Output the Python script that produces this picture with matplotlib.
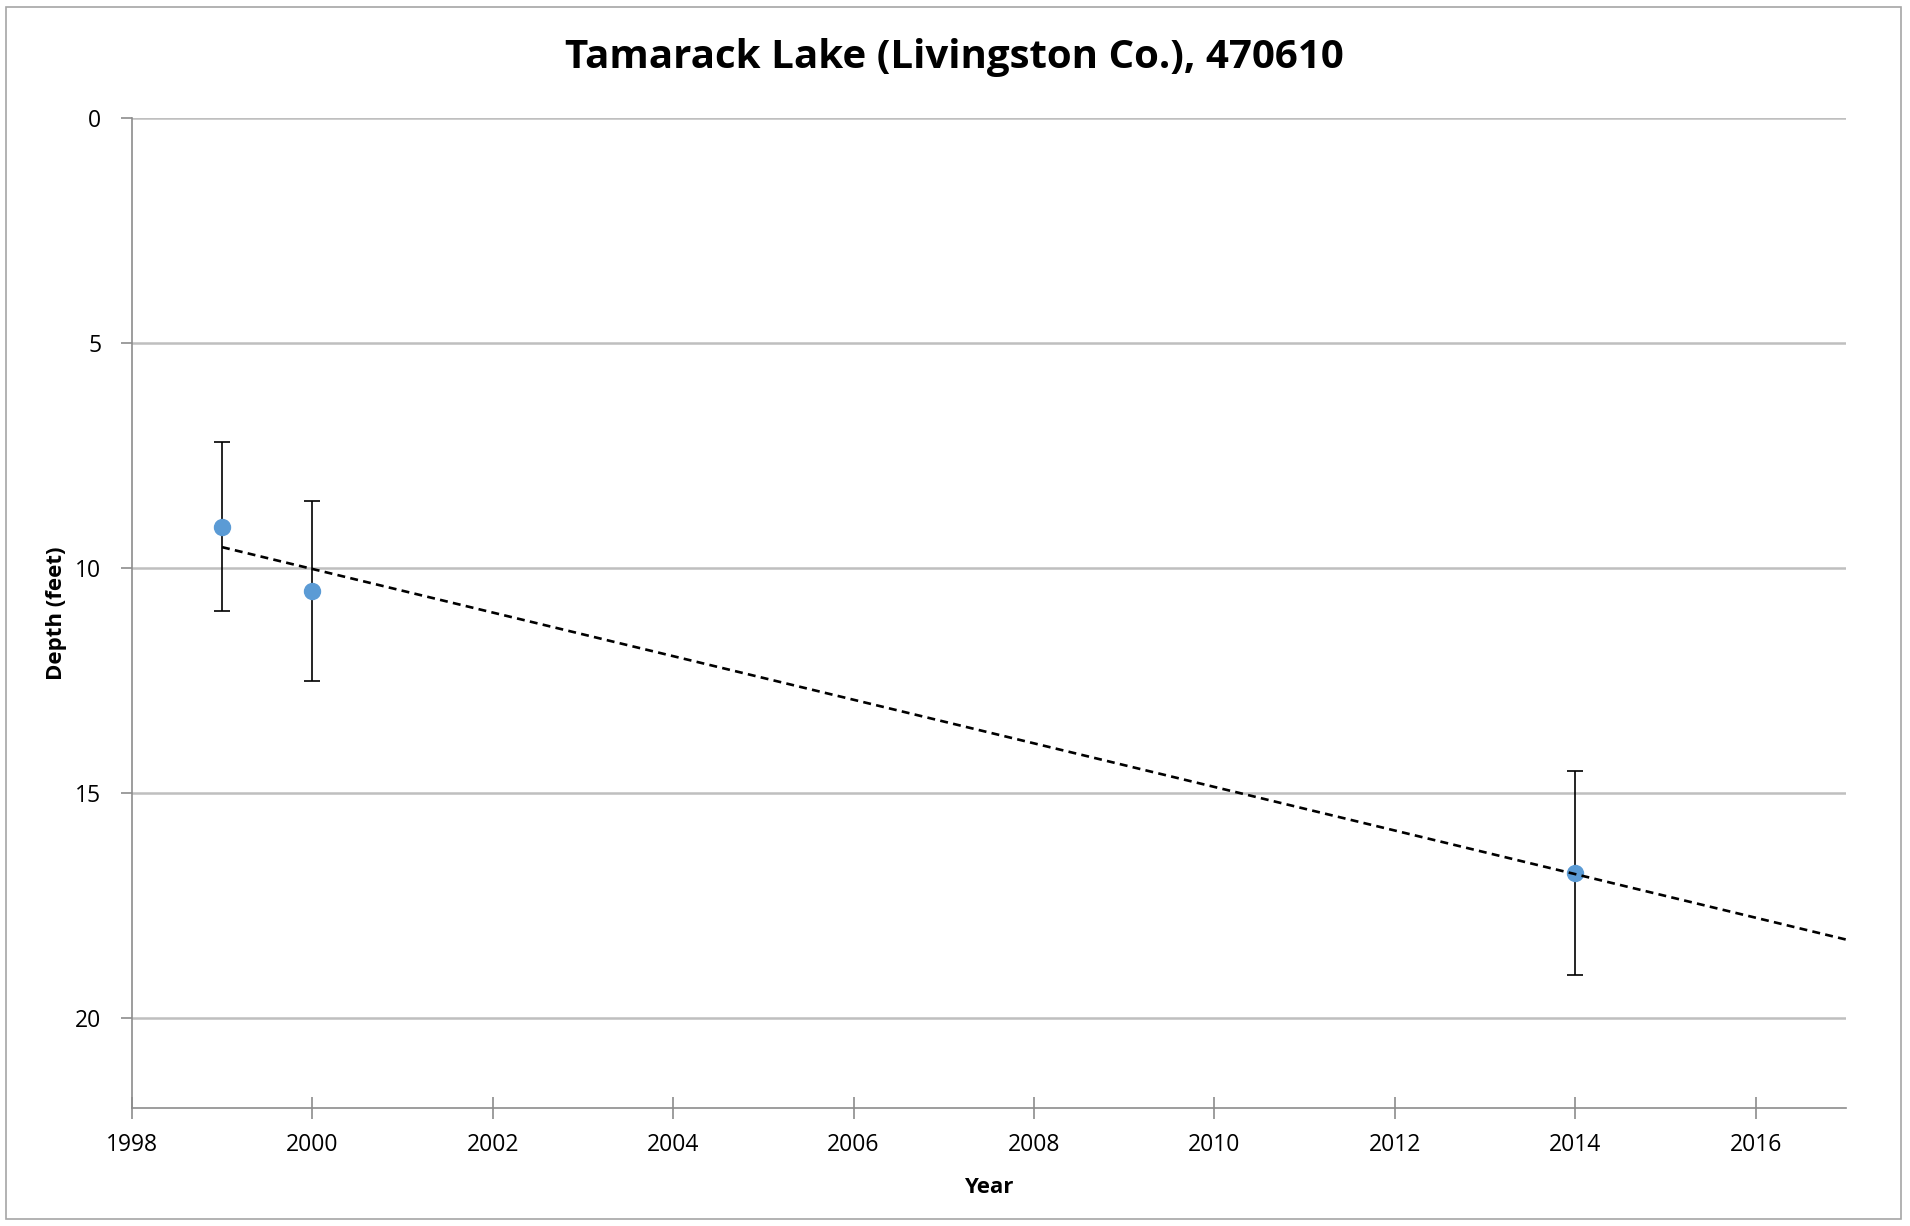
import matplotlib
matplotlib.use("Agg")
import matplotlib.pyplot as plt
import numpy as np
from matplotlib.patches import Rectangle

# values
years = np.array([1999, 2000, 2014])
depth_ft = np.array([9.08, 10.51, 16.77])
depth_err = np.array([1.87, 2.0, 2.27])
x_ticks = list(range(1998, 2017, 2))
y_ticks = [0, 5, 10, 15, 20]

title = "Tamarack Lake (Livingston Co.), 470610"

plt.rcParams["font.family"] = ["Open Sans", "DejaVu Sans"]

fig = plt.figure(figsize=(19.1, 12.26), dpi=100)
ax = fig.add_axes([0.069, 0.0962, 0.8975, 0.8076])

# outer chart border
fig.patches.append(Rectangle((6 / 1910, 7 / 1226), 1895 / 1910, 1212 / 1226,
                             transform=fig.transFigure, fill=False,
                             edgecolor="#A6A6A6", linewidth=1.2))

ax.errorbar(years, depth_ft, yerr=depth_err, fmt="none", ecolor="black",
            elinewidth=1.2, capsize=6, capthick=1.2, zorder=3)
ax.plot(years, depth_ft, "o", color="#5B9BD5", markersize=11.5, zorder=4)

# linear trend, extended forward to the end of the axis
slope, intercept = np.polyfit(years, depth_ft, 1)
trend_x = np.array([years.min(), 2017])
ax.plot(trend_x, slope * trend_x + intercept, color="black", linestyle=(0, (3, 2)),
        linewidth=1.9, zorder=5)

ax.set_xlim(1998, 2017)
ax.set_ylim(22, 0)
ax.set_xticks(x_ticks)
ax.set_yticks(y_ticks)
ax.yaxis.grid(True, color="#BFBFBF", linewidth=1.8)
ax.set_axisbelow(True)

for side in ["top", "right"]:
    ax.spines[side].set_visible(False)
for side in ["left", "bottom"]:
    ax.spines[side].set_color("#8C8C8C")
    ax.spines[side].set_linewidth(1.2)

ax.tick_params(axis="x", direction="inout", length=16, width=1.2, color="#8C8C8C",
               labelsize=16.5, pad=10)
ax.tick_params(axis="y", direction="out", length=8, width=1.2, color="#8C8C8C",
               labelsize=16.5, pad=14)

ax.set_xlabel("Year", fontsize=16, fontweight="bold", labelpad=14)
ax.set_ylabel("Depth (feet)", fontsize=16, fontweight="bold", labelpad=6)
fig.suptitle(title, x=0.4995, y=0.953, va="center", fontsize=29, fontweight="bold")

fig.savefig("out.png", dpi=100)
